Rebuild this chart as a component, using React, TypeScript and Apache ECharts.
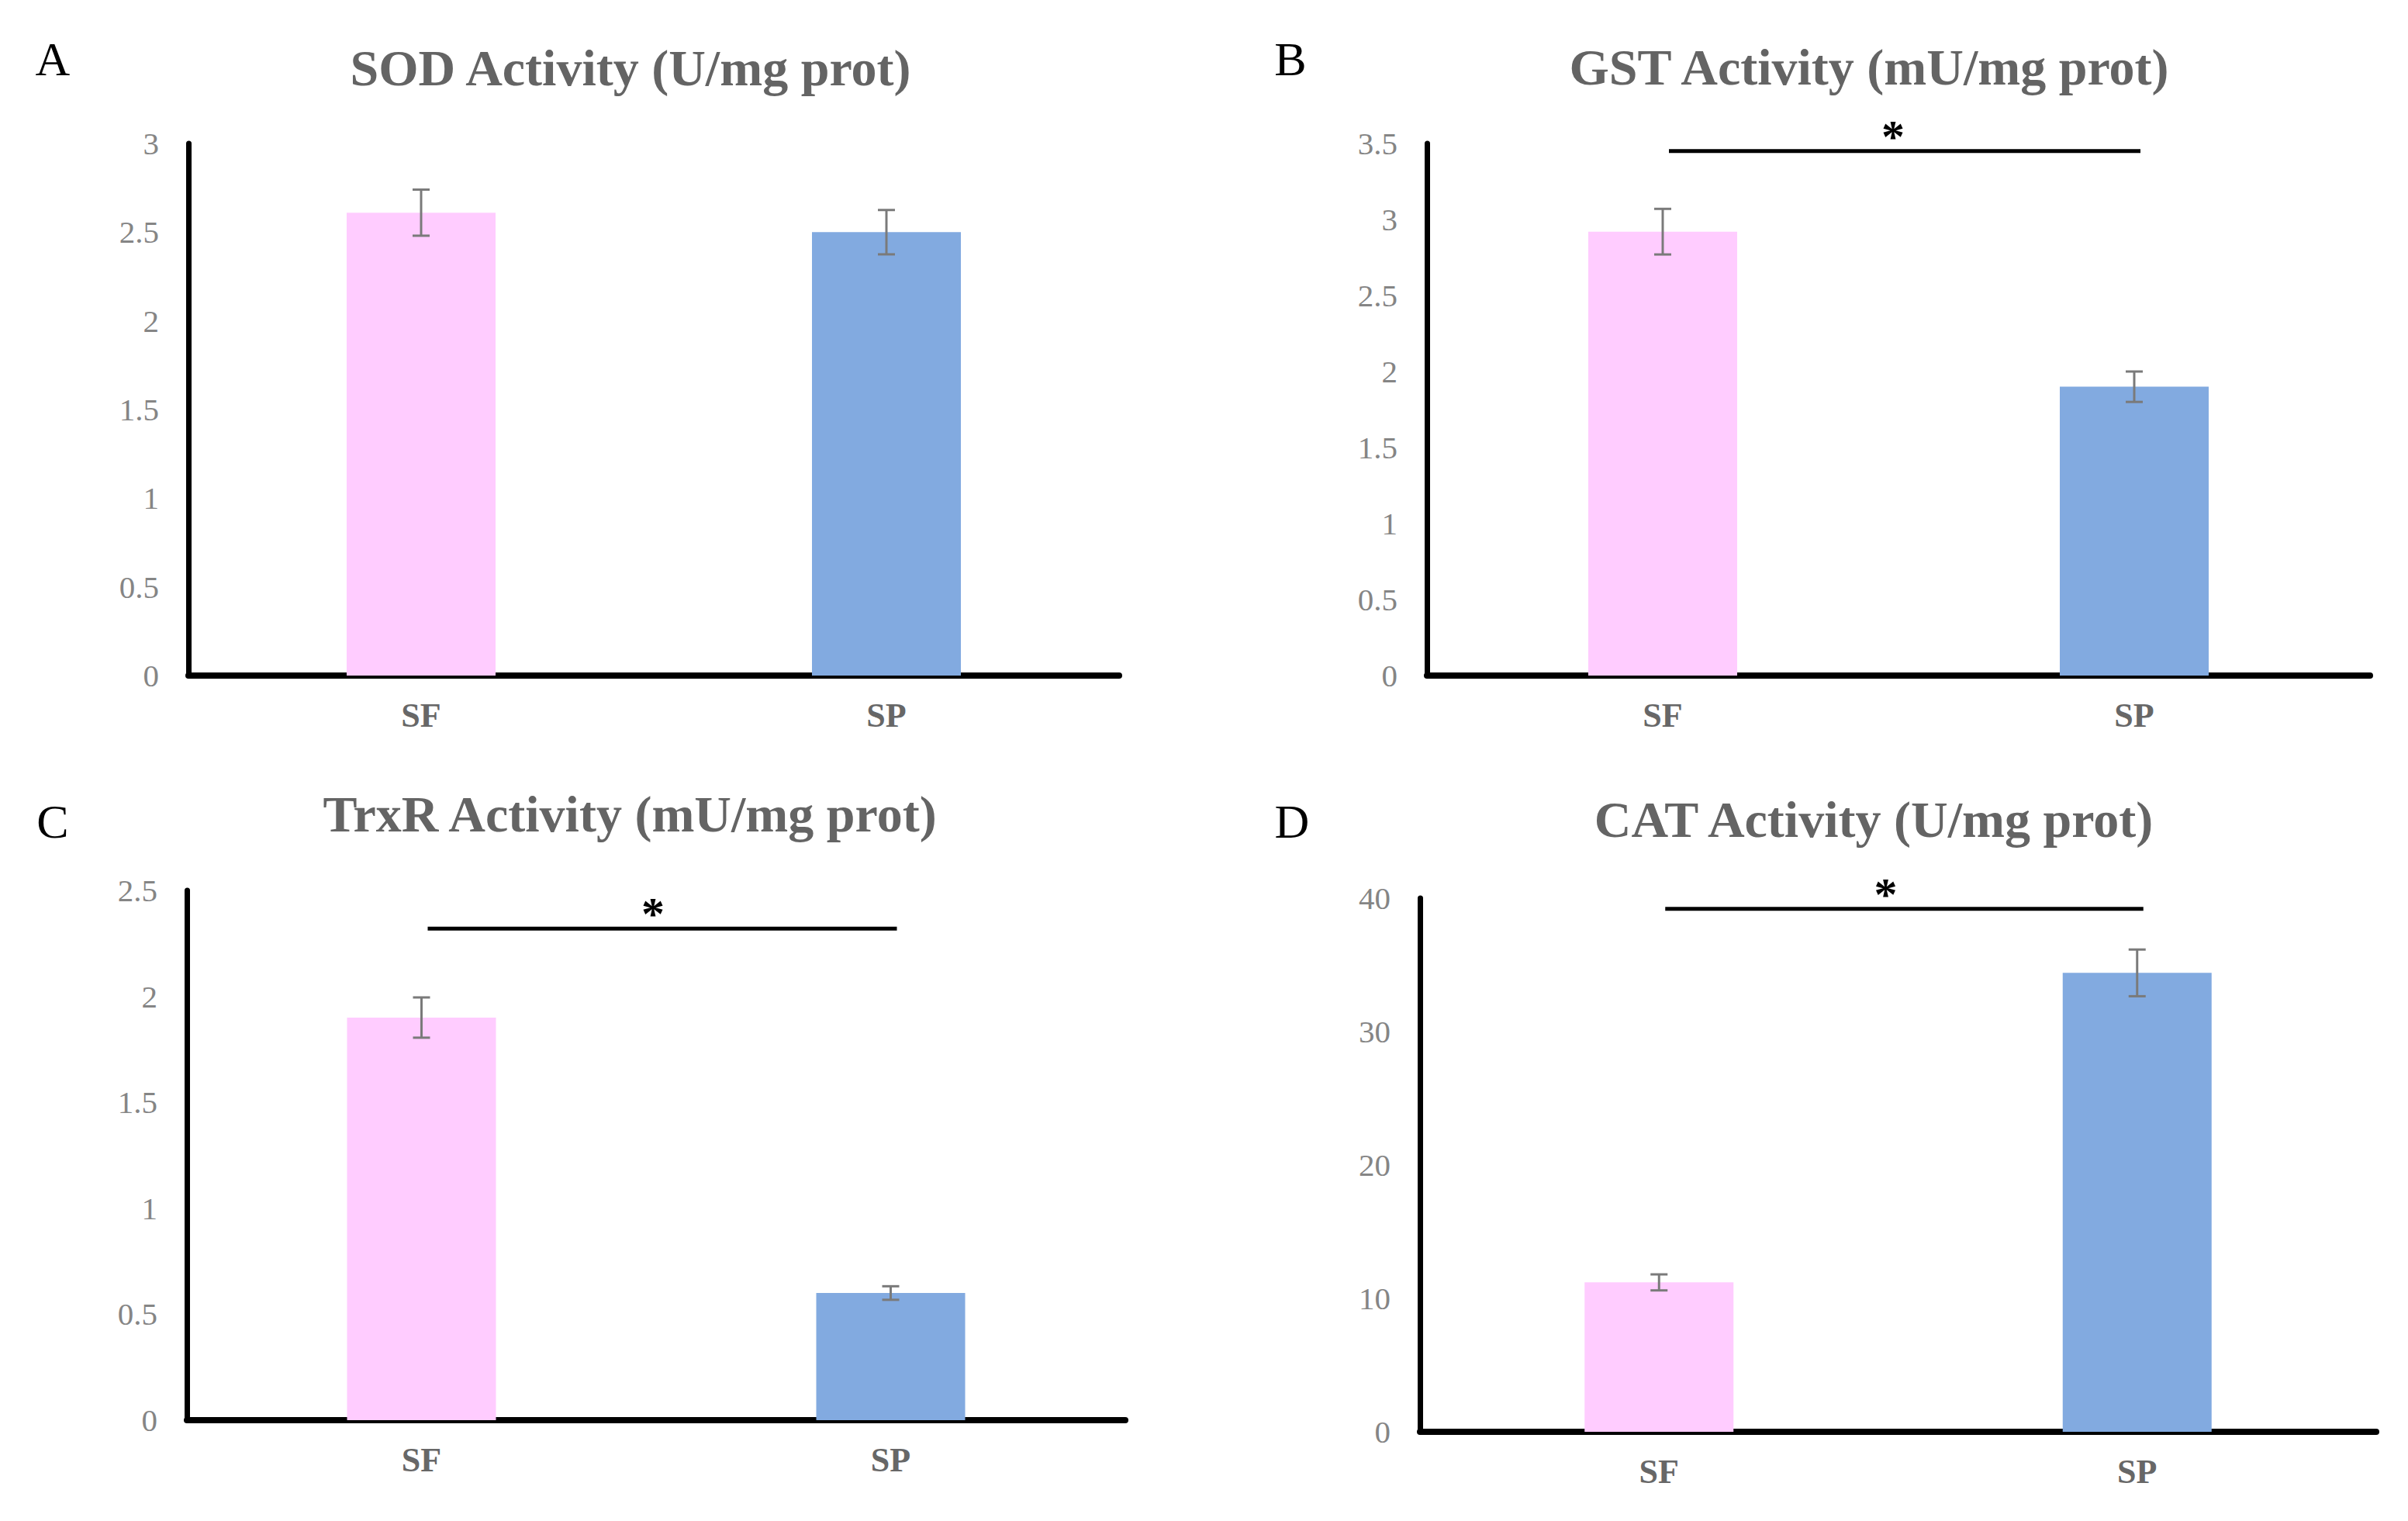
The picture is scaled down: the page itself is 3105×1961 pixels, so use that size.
import React, { useEffect, useRef } from 'react';
import * as echarts from 'echarts';

// ---------- data ----------
const categories = ['SF', 'SP'];
const sodMean = [2.61, 2.5];
const sodErr = [0.13, 0.125];
const gstMean = [2.92, 1.9];
const gstErr = [0.15, 0.1];
const trxrMean = [1.9, 0.6];
const trxrErr = [0.095, 0.032];
const catMean = [11.2, 34.4];
const catErr = [0.6, 1.75];

const panelTitles = [
  'SOD Activity (U/mg prot)',
  'GST Activity (mU/mg prot)',
  'TrxR Activity (mU/mg prot)',
  'CAT Activity (U/mg prot)',
];
const panelLetters = ['A', 'B', 'C', 'D'];
const yMax = [3, 3.5, 2.5, 40];
const yInterval = [0.5, 0.5, 0.5, 10];
const sigLevel: (number | null)[] = [null, 3.45, 2.32, 39.2];
const sigMark = '*';

const means = [sodMean, gstMean, trxrMean, catMean];
const errs = [sodErr, gstErr, trxrErr, catErr];

// ---------- layout / style ----------
const grids = [
  { left: 243, top: 185, width: 1200, height: 686 },
  { left: 1840, top: 185, width: 1216, height: 686 },
  { left: 241, top: 1148, width: 1210, height: 683 },
  { left: 1831, top: 1158, width: 1233, height: 688 },
];
const titlePos = [
  [813, 87],
  [2410, 86],
  [812, 1049],
  [2416, 1056],
];
const letterPos = [
  [68, 76],
  [1664, 76],
  [68, 1059],
  [1666, 1059],
];
const starShift = [0, -15, -12, -24];
const barColors = ['#FFCCFF', '#82AAE0'];
const FONT = '"Liberation Serif", "Times New Roman", serif';

export default function App() {
  const ref = useRef<HTMLDivElement>(null);
  useEffect(() => {
    document.body.style.margin = '0';
    if (!ref.current) return;
    const chart = echarts.init(ref.current, undefined, { renderer: 'svg' });

    const series: any[] = [];
    means.forEach((m, i) => {
      series.push({
        type: 'bar',
        xAxisIndex: i,
        yAxisIndex: i,
        barWidth: 192,
        z: 2,
        data: m.map((v, j) => ({ value: v, itemStyle: { color: barColors[j] } })),
      });
      series.push({
        type: 'custom',
        xAxisIndex: i,
        yAxisIndex: i,
        z: 4,
        encode: { x: 0, y: [1, 2] },
        data: m.map((v, j) => [j, v - errs[i][j], v + errs[i][j]]),
        renderItem: (params: any, api: any) => {
          const lo = api.coord([api.value(0), api.value(1)]);
          const hi = api.coord([api.value(0), api.value(2)]);
          const hw = 11;
          const st = { stroke: '#7a7a7a', lineWidth: 3 };
          return {
            type: 'group',
            children: [
              { type: 'line', shape: { x1: lo[0], y1: lo[1], x2: hi[0], y2: hi[1] }, style: st },
              { type: 'line', shape: { x1: hi[0] - hw, y1: hi[1], x2: hi[0] + hw, y2: hi[1] }, style: st },
              { type: 'line', shape: { x1: lo[0] - hw, y1: lo[1], x2: lo[0] + hw, y2: lo[1] }, style: st },
            ],
          };
        },
      });
      const lvl = sigLevel[i];
      if (lvl !== null) {
        series.push({
          type: 'custom',
          xAxisIndex: i,
          yAxisIndex: i,
          z: 5,
          clip: false,
          encode: { x: [0, 1], y: 2 },
          data: [[0, 1, lvl]],
          renderItem: (params: any, api: any) => {
            const p1 = api.coord([api.value(0), api.value(2)]);
            const p2 = api.coord([api.value(1), api.value(2)]);
            const mid = (p1[0] + p2[0]) / 2 + 8;
            return {
              type: 'group',
              children: [
                {
                  type: 'line',
                  shape: { x1: p1[0] + 8, y1: p1[1], x2: p2[0] + 8, y2: p2[1] },
                  style: { stroke: '#000', lineWidth: 5 },
                },
                {
                  type: 'text',
                  x: mid + starShift[i],
                  y: p1[1] - 19,
                  style: {
                    text: sigMark,
                    fontSize: 60,
                    fontWeight: 'bold',
                    fontFamily: FONT,
                    fill: '#000',
                    align: 'center',
                    verticalAlign: 'middle',
                    textAlign: 'center',
                    textVerticalAlign: 'middle',
                  },
                },
              ],
            };
          },
        });
      }
    });

    const graphic: any[] = [];
    panelTitles.forEach((t, i) => {
      graphic.push({
        type: 'text',
        x: titlePos[i][0],
        y: titlePos[i][1],
        style: {
          text: t,
          fontSize: 66,
          fontWeight: 'bold',
          fontFamily: FONT,
          fill: '#646464',
          align: 'center',
          verticalAlign: 'middle',
          textAlign: 'center',
          textVerticalAlign: 'middle',
        },
      });
      graphic.push({
        type: 'text',
        x: letterPos[i][0],
        y: letterPos[i][1],
        style: {
          text: panelLetters[i],
          fontSize: 62,
          fontFamily: FONT,
          fill: '#000',
          align: 'center',
          verticalAlign: 'middle',
          textAlign: 'center',
          textVerticalAlign: 'middle',
        },
      });
    });

    chart.setOption({
      animation: false,
      backgroundColor: '#ffffff',
      grid: grids.map((g) => ({ ...g, containLabel: false })),
      xAxis: grids.map((g, i) => ({
        type: 'category',
        gridIndex: i,
        data: categories,
        axisLine: { show: true, lineStyle: { color: '#000', width: 8 } },
        axisTick: { show: false },
        splitLine: { show: false },
        axisLabel: {
          margin: 29,
          fontSize: 44,
          fontWeight: 'bold',
          fontFamily: FONT,
          color: '#676767',
          lineHeight: 44,
        },
      })),
      yAxis: grids.map((g, i) => ({
        type: 'value',
        gridIndex: i,
        min: 0,
        max: yMax[i],
        interval: yInterval[i],
        axisLine: { show: true, lineStyle: { color: '#000', width: 7 } },
        axisTick: { show: false },
        splitLine: { show: false },
        axisLabel: {
          margin: 38,
          fontSize: 41,
          fontFamily: FONT,
          color: '#858585',
        },
      })),
      series,
      graphic,
    });

    return () => chart.dispose();
  }, []);
  return <div ref={ref} style={{ width: 3105, height: 1961 }} />;
}
